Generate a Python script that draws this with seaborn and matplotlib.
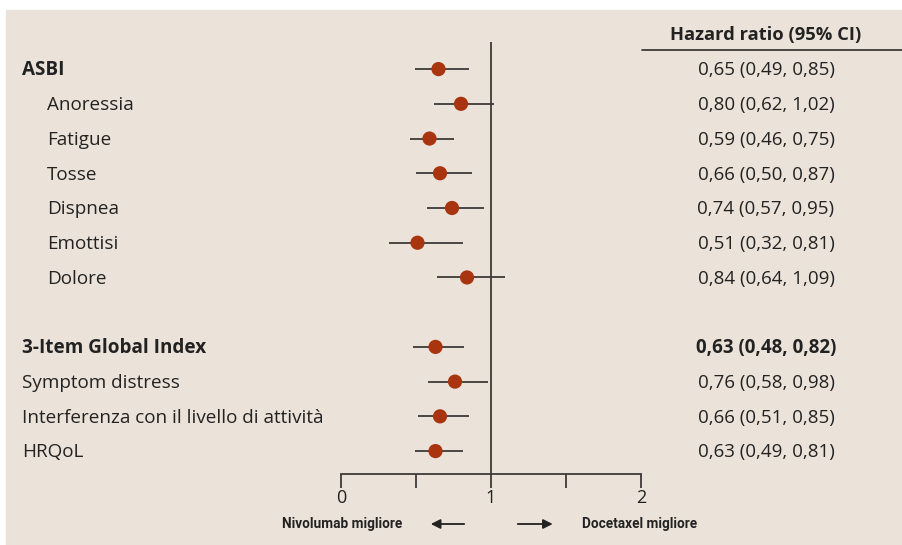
import numpy as np
import pandas as pd
import seaborn as sns
import matplotlib.pyplot as plt
from matplotlib.patches import Rectangle
from matplotlib.lines import Line2D
from matplotlib.transforms import blended_transform_factory

# Dati (hazard ratio e IC 95%)
labels = ["ASBI", "Anoressia", "Fatigue", "Tosse", "Dispnea", "Emottisi", "Dolore",
          "3-Item Global Index", "Symptom distress",
          "Interferenza con il livello di attività", "HRQoL"]
rows = [0, 1, 2, 3, 4, 5, 6, 8, 9, 10, 11]
hr = [0.65, 0.80, 0.59, 0.66, 0.74, 0.51, 0.84, 0.63, 0.76, 0.66, 0.63]
lo = [0.49, 0.62, 0.46, 0.50, 0.57, 0.32, 0.64, 0.48, 0.58, 0.51, 0.49]
hi = [0.85, 1.02, 0.75, 0.87, 0.95, 0.81, 1.09, 0.82, 0.98, 0.85, 0.81]
label_bold = [True, False, False, False, False, False, False, True, False, False, False]
value_bold = [False, False, False, False, False, False, False, True, False, False, False]
indent = [False, True, True, True, True, True, True, False, False, False, False]
hr_text = ["0,65 (0,49, 0,85)", "0,80 (0,62, 1,02)", "0,59 (0,46, 0,75)",
           "0,66 (0,50, 0,87)", "0,74 (0,57, 0,95)", "0,51 (0,32, 0,81)",
           "0,84 (0,64, 1,09)", "0,63 (0,48, 0,82)", "0,76 (0,58, 0,98)",
           "0,66 (0,51, 0,85)", "0,63 (0,49, 0,81)"]

df = pd.DataFrame({"row": rows, "hr": hr, "lo": lo, "hi": hi})

sns.set_style("white")
plt.rcParams["font.family"] = ["Open Sans", "DejaVu Sans"]

W, H = 902, 545
fig = plt.figure(figsize=(W / 100, H / 100), dpi=100)
fig.patches.append(Rectangle((6 / W, 0), 1, 1 - 10 / H, transform=fig.transFigure,
                             color="#ebe3d9", zorder=-10))

ax = fig.add_axes([341 / W, 1 - 474 / H, 300 / W, 432 / H])
ax.set_facecolor("none")

dark = "#3c3a38"
txt = "#222222"
ax.axvline(1, color=dark, lw=1.3, zorder=1)
ax.hlines(df["row"], df["lo"], df["hi"], color=dark, lw=1.3, zorder=2)
sns.scatterplot(data=df, x="hr", y="row", ax=ax, s=105, color="#a8350f",
                edgecolor="none", zorder=3, legend=False)

ax.set_xlim(0, 2)
ax.set_ylim(11.66, -0.78)
ax.set_xticks([0, 0.5, 1, 1.5, 2])
ax.set_xticklabels(["0", "", "1", "", "2"])
ax.set_yticks([])
ax.set_xlabel("")
ax.set_ylabel("")
for s in ["left", "right", "top"]:
    ax.spines[s].set_visible(False)
ax.spines["bottom"].set_color(dark)
ax.spines["bottom"].set_linewidth(1.3)
ax.tick_params(axis="x", direction="out", length=10, width=1.3, color=dark,
               labelsize=13, labelcolor=txt, pad=1, bottom=True)

# Etichette a sinistra e valori HR a destra
tr = blended_transform_factory(fig.transFigure, ax.transData)
for i, r in enumerate(rows):
    x = 47 / W if indent[i] else 22 / W
    ax.text(x, r + 0.04, labels[i], transform=tr, ha="left", va="center", fontsize=13.6,
            fontweight="bold" if label_bold[i] else "normal", color=txt, clip_on=False)
    ax.text(766 / W, r + 0.04, hr_text[i], transform=tr, ha="center", va="center",
            fontsize=13.5, fontweight="bold" if value_bold[i] else "normal", color=txt,
            clip_on=False)

fig.text(766 / W, 1 - 35 / H, "Hazard ratio (95% CI)", ha="center", va="center",
         fontsize=13.2, fontweight="bold", color=txt)
fig.lines.append(Line2D([642 / W, 1.0], [1 - 50 / H, 1 - 50 / H], transform=fig.transFigure,
                        color=dark, lw=1.3))

# Frecce e didascalie in basso
ty = blended_transform_factory(ax.transData, fig.transFigure)
yb = 1 - 524 / H
narrow = ["Roboto", "DejaVu Sans"]
ax.text(0.41, yb, "Nivolumab migliore", transform=ty, ha="right", va="center",
        fontsize=9.8, fontweight="bold", family=narrow, color=txt, clip_on=False)
ax.text(1.61, yb, "Docetaxel migliore", transform=ty, ha="left", va="center",
        fontsize=9.8, fontweight="bold", family=narrow, color=txt, clip_on=False)
ax.annotate("", xy=(0.58, yb), xytext=(0.84, yb), xycoords=ty, textcoords=ty,
            arrowprops=dict(arrowstyle="-|>", color=txt, lw=1.3, mutation_scale=14))
ax.annotate("", xy=(1.43, yb), xytext=(1.16, yb), xycoords=ty, textcoords=ty,
            arrowprops=dict(arrowstyle="-|>", color=txt, lw=1.3, mutation_scale=14))

fig.savefig("out.png", dpi=100, facecolor="white")
